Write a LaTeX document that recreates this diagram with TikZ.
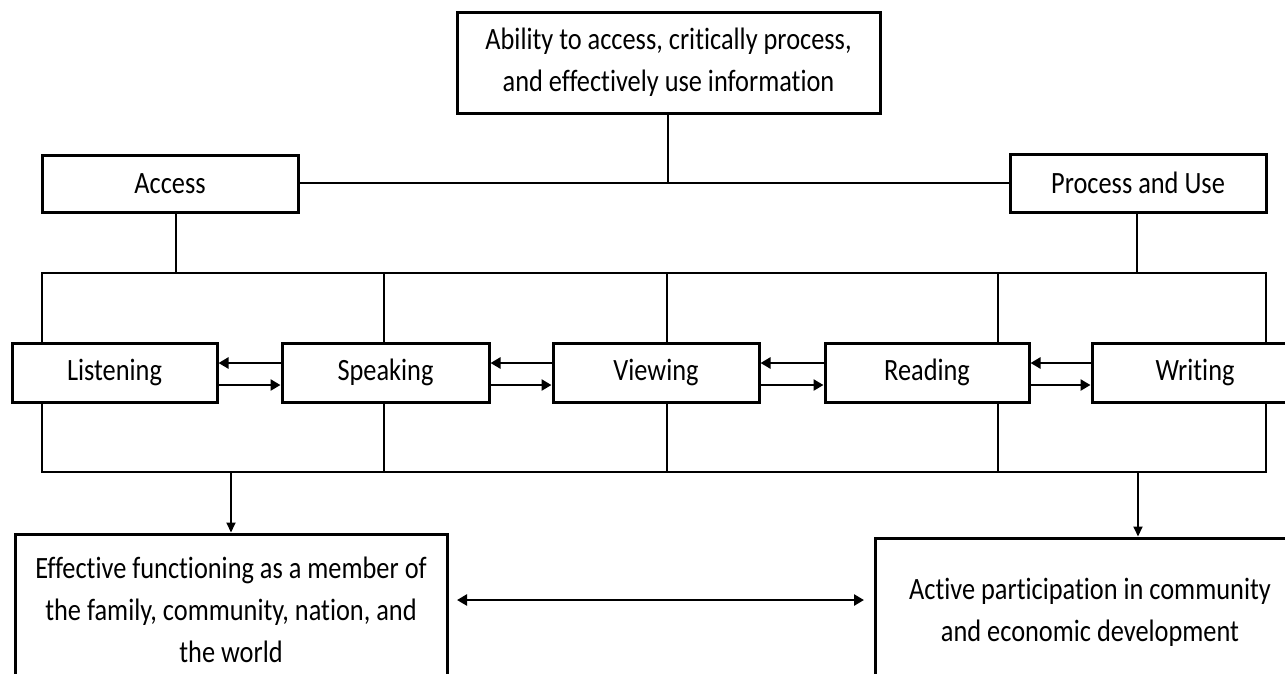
\documentclass[tikz,border=0pt]{standalone}
\usepackage{fontspec}
\setmainfont{Carlito}[FakeStretch=0.85, Ligatures=NoCommon]
\usetikzlibrary{arrows.meta}
\begin{document}
\begin{tikzpicture}[x=1pt,y=-1pt,
  box/.style={draw, line width=3pt, inner sep=0pt, align=center,
              font=\fontsize{31}{42}\selectfont},
  link/.style={line width=2.4pt},
  flow/.style={line width=2.8pt, -{Triangle[length=10pt,width=11pt]}},
  down/.style={line width=1.8pt, -{Triangle[length=10pt,width=9pt]}},
  both/.style={line width=2.8pt, {Triangle[length=10pt,width=11pt]}-{Triangle[length=10pt,width=11pt]}}]
\useasboundingbox (0,0) rectangle (1285,673);
\clip (0,0) rectangle (1285,673);

% top level
\node[box, minimum width=423pt, minimum height=101pt] (goal) at (668.5,62.5)
  {Ability to access, critically process,\\and effectively use information};
\node[box, minimum width=256pt, minimum height=57pt] (access) at (170,183.5) {Access};
\node[box, minimum width=256pt, minimum height=58pt] (proc) at (1138,183) {Process and Use};

% the five skills
\foreach \n/\x/\w/\t in {listen/114.5/205/Listening, speak/385.5/207/Speaking,
    view/656/206/Viewing, read/927/204/Reading, write/1195/206/Writing}
  \node[box, minimum width=\w pt, minimum height=59pt] (\n) at (\x,372.5) {\t};

% outcomes
\node[box, minimum width=432pt, minimum height=151pt] (family) at (231,609.5)
  {Effective functioning as a member of\\the family, community, nation, and\\the world};
\node[box, minimum width=430pt, minimum height=148pt] (econ) at (1090,612)
  {Active participation in community\\and economic development};

% bus coordinates
\coordinate (tA) at (42,273);   \coordinate (tB) at (384,273);
\coordinate (tC) at (667,273);  \coordinate (tD) at (998,273);
\coordinate (tE) at (1266,273);
\coordinate (bA) at (42,472);   \coordinate (bB) at (384,472);
\coordinate (bC) at (667,472);  \coordinate (bD) at (998,472);
\coordinate (bE) at (1266,472);
\coordinate (mid) at (668,183);
\coordinate (accX) at (176,273);
\coordinate (procX) at (1137,273);
\coordinate (hi) at (0,363);
\coordinate (lo) at (0,385);
\coordinate (outL) at (231,472);
\coordinate (outR) at (1138,472);

% hierarchy lines
\draw[link] (goal.south -| mid) -- (mid);
\draw[link] (access.east |- mid) -- (proc.west |- mid);
\draw[link] (access.south -| accX) -- (accX);
\draw[link] (proc.south -| procX) -- (procX);
\draw[link, line cap=rect] (tA) -- (tE);
\draw[link, line cap=rect] (bA) -- (bE);

\draw[link] (tA) -- (tA |- listen.north);
\draw[link] (tB) -- (tB |- speak.north);
\draw[link] (tC) -- (tC |- view.north);
\draw[link] (tD) -- (tD |- read.north);
\draw[link] (tE) -- (tE |- write.north);
\draw[link] (bA) -- (bA |- listen.south);
\draw[link] (bB) -- (bB |- speak.south);
\draw[link] (bC) -- (bC |- view.south);
\draw[link] (bD) -- (bD |- read.south);
\draw[link] (bE) -- (bE |- write.south);

% arrows between neighbouring skills
\foreach \a/\b in {listen/speak, speak/view, view/read, read/write} {
  \draw[flow] (\b.west |- hi) -- (\a.east |- hi);
  \draw[flow] (\a.east |- lo) -- (\b.west |- lo);
}

% outcomes
\draw[down] (outL) -- (outL |- family.north);
\draw[down] (outR) -- (outR |- econ.north);
\coordinate (dl) at (457,600);
\coordinate (dr) at (864,600);
\draw[both] (dl) -- (dr);
\end{tikzpicture}
\end{document}
